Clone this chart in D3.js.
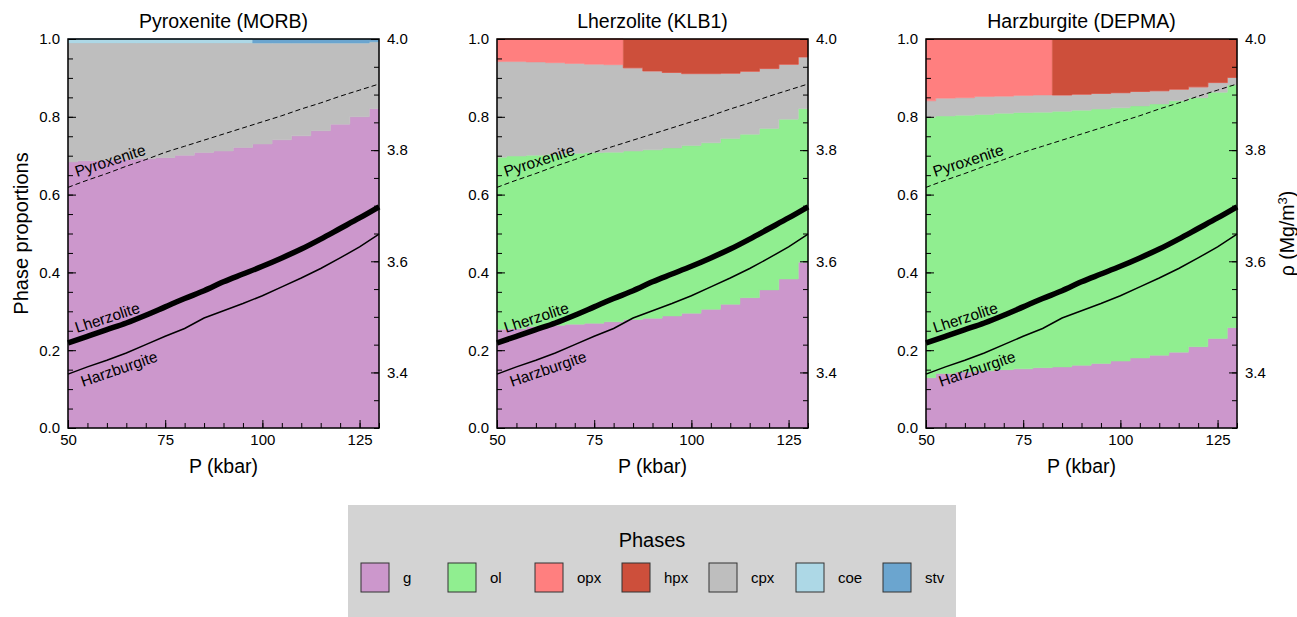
<!DOCTYPE html>
<html>
<head>
<meta charset="utf-8">
<script src="https://cdn.jsdelivr.net/npm/d3@7"></script>
<style>
  body { margin: 0; background: #fff; }
  svg text { font-family: "Liberation Sans", Arial, sans-serif; fill: #000; }
</style>
</head>
<body>
<svg width="1297" height="617"></svg>
<script>
/* pressure grid (kbar) shared by all three panels */
var pressure = [50, 55, 60, 65, 70, 75, 80, 85, 90, 95, 100, 105, 110, 115, 120, 125, 130];

/* phases, stacking order (bottom -> top) and legend order */
var stackOrder = ["g", "ol", "cpx", "opx", "hpx", "coe", "stv"];
var legendOrder = ["g", "ol", "opx", "hpx", "cpx", "coe", "stv"];
var phaseColors = {g: "#cc97cc", ol: "#90ee90", opx: "#ff7f7f", hpx: "#cd4f3b",
                   cpx: "#bebebe", coe: "#add8e6", stv: "#6ba5cf"};

/* Pyroxenite (MORB) phase proportions */
var morbG   = [0.684, 0.687, 0.688, 0.690, 0.692, 0.695, 0.701, 0.708, 0.712, 0.721, 0.730, 0.741, 0.751, 0.764, 0.781, 0.800, 0.821];
var morbCpx = [0.306, 0.303, 0.302, 0.300, 0.298, 0.295, 0.289, 0.282, 0.278, 0.269, 0.260, 0.249, 0.239, 0.226, 0.209, 0.190, 0.172];
var morbCoe = [0.010, 0.010, 0.010, 0.010, 0.010, 0.010, 0.010, 0.010, 0.010, 0.010, 0, 0, 0, 0, 0, 0, 0];
var morbStv = [0, 0, 0, 0, 0, 0, 0, 0, 0, 0, 0.010, 0.010, 0.010, 0.010, 0.010, 0.010, 0.007];

/* Lherzolite (KLB1) phase proportions */
var klbG   = [0.254, 0.255, 0.261, 0.264, 0.267, 0.269, 0.273, 0.279, 0.282, 0.288, 0.295, 0.305, 0.318, 0.335, 0.355, 0.383, 0.426];
var klbOl  = [0.442, 0.444, 0.440, 0.439, 0.439, 0.439, 0.436, 0.433, 0.433, 0.432, 0.431, 0.428, 0.426, 0.420, 0.415, 0.411, 0.395];
var klbCpx = [0.246, 0.243, 0.240, 0.236, 0.231, 0.227, 0.225, 0.214, 0.203, 0.194, 0.185, 0.178, 0.168, 0.162, 0.154, 0.141, 0.133];
var klbOpx = [0.058, 0.058, 0.059, 0.061, 0.063, 0.065, 0.066, 0, 0, 0, 0, 0, 0, 0, 0, 0, 0];
var klbHpx = [0, 0, 0, 0, 0, 0, 0, 0.074, 0.082, 0.086, 0.089, 0.089, 0.088, 0.083, 0.076, 0.065, 0.046];

/* Harzburgite (DEPMA) phase proportions */
var depG   = [0.129, 0.140, 0.144, 0.147, 0.150, 0.152, 0.155, 0.157, 0.161, 0.166, 0.172, 0.180, 0.187, 0.195, 0.209, 0.230, 0.258];
var depOl  = [0.670, 0.662, 0.660, 0.659, 0.659, 0.659, 0.657, 0.657, 0.656, 0.654, 0.651, 0.648, 0.646, 0.646, 0.640, 0.633, 0.624];
var depCpx = [0.042, 0.046, 0.045, 0.046, 0.044, 0.044, 0.044, 0.042, 0.041, 0.040, 0.039, 0.037, 0.034, 0.030, 0.028, 0.025, 0.019];
var depOpx = [0.159, 0.152, 0.151, 0.148, 0.147, 0.145, 0.144, 0, 0, 0, 0, 0, 0, 0, 0, 0, 0];
var depHpx = [0, 0, 0, 0, 0, 0, 0, 0.144, 0.142, 0.140, 0.138, 0.135, 0.133, 0.129, 0.123, 0.112, 0.099];

/* bulk densities (Mg/m3), drawn on every panel */
var rhoPyroxenite  = [3.733, 3.746, 3.758, 3.771, 3.783, 3.796, 3.807, 3.818, 3.829, 3.840, 3.851, 3.862, 3.874, 3.885, 3.897, 3.908, 3.919];
var rhoLherzolite  = [3.453, 3.465, 3.477, 3.489, 3.503, 3.518, 3.533, 3.547, 3.563, 3.577, 3.591, 3.606, 3.622, 3.640, 3.659, 3.678, 3.698];
var rhoHarzburgite = [3.397, 3.410, 3.422, 3.435, 3.450, 3.465, 3.479, 3.498, 3.511, 3.524, 3.538, 3.554, 3.570, 3.587, 3.606, 3.626, 3.649];

/* tick labels */
var xTicks = [50, 75, 100, 125];
var yTicks = [0, 0.2, 0.4, 0.6, 0.8, 1.0];
var rhoTicks = [3.4, 3.6, 3.8, 4.0];

var panels = [
  {title: "Pyroxenite (MORB)", phases: {g: morbG, cpx: morbCpx, coe: morbCoe, stv: morbStv}},
  {title: "Lherzolite (KLB1)", phases: {g: klbG, ol: klbOl, cpx: klbCpx, opx: klbOpx, hpx: klbHpx}},
  {title: "Harzburgite (DEPMA)", phases: {g: depG, ol: depOl, cpx: depCpx, opx: depOpx, hpx: depHpx}}
];

var svg = d3.select("svg");
var panelLeft = [68, 497, 926],
    pw = 311, plotTop = 39, ph = 389;

var x = d3.scaleLinear().domain([50, 130]).range([0, pw]),
    y = d3.scaleLinear().domain([0, 1]).range([ph, 0]),
    yRho = d3.scaleLinear().domain([3.3, 4.0]).range([ph, 0]);

var minorX = d3.range(50, 131, 5),
    minorY = d3.range(0, 1.0001, 0.05),
    minorRho = d3.range(3.3, 4.0001, 0.05);

panels.forEach(function(p, i) {
  var g = svg.append("g").attr("transform", "translate(" + panelLeft[i] + "," + plotTop + ")");

  /* build rows for the stack, phases missing in a panel are 0 */
  var rows = pressure.map(function(P, j) {
    var r = {P: P};
    stackOrder.forEach(function(k) { r[k] = p.phases[k] ? p.phases[k][j] : 0; });
    return r;
  });
  var series = d3.stack().keys(stackOrder)(rows);

  var area = d3.area()
      .curve(d3.curveStep)
      .x(function(d) { return x(d.data.P); })
      .y0(function(d) { return y(d[0]); })
      .y1(function(d) { return y(d[1]); });

  g.selectAll(".layer")
    .data(series.filter(function(s) { return p.phases[s.key]; }))
    .enter().append("path")
      .attr("class", "layer")
      .attr("fill", function(s) { return phaseColors[s.key]; })
      .attr("stroke", function(s) { return phaseColors[s.key]; })
      .attr("stroke-width", 0.5)
      .attr("d", area);

  /* density curves on the right-hand axis */
  var smooth = d3.line()
      .curve(d3.curveMonotoneX)
      .x(function(d, j) { return x(pressure[j]); })
      .y(function(d) { return yRho(d); });
  var straight = d3.line()
      .x(function(d, j) { return x(pressure[j]); })
      .y(function(d) { return yRho(d); });

  g.append("path").attr("d", smooth(rhoPyroxenite))
    .attr("fill", "none").attr("stroke", "#000").attr("stroke-width", 1).attr("stroke-dasharray", "5,3");
  g.append("path").attr("d", smooth(rhoLherzolite))
    .attr("fill", "none").attr("stroke", "#000").attr("stroke-width", 5.5);
  g.append("path").attr("d", straight(rhoHarzburgite))
    .attr("fill", "none").attr("stroke", "#000").attr("stroke-width", 1.5);

  var labels = [["Pyroxenite", 9, 138, -18], ["Lherzolite", 9, 294, -18], ["Harzburgite", 15, 348, -19]];
  g.selectAll(".rlab")
    .data(labels)
    .enter().append("text")
      .attr("class", "rlab")
      .attr("transform", function(d) { return "translate(" + d[1] + "," + d[2] + ") rotate(" + d[3] + ")"; })
      .style("font-size", "15.5px")
      .text(function(d) { return d[0]; });

  /* axes, ticks pointing inward */
  function clean(sel) { sel.select(".domain").remove(); sel.selectAll("line").attr("stroke", "#000"); sel.selectAll("text").style("font-size", "15px"); }

  g.append("g").call(d3.axisLeft(y).tickValues(minorY).tickSize(-5).tickFormat("")).call(clean);
  g.append("g").call(d3.axisLeft(y).tickValues(yTicks).tickSize(-8).tickPadding(8).tickFormat(d3.format(".1f"))).call(clean);

  g.append("g").attr("transform", "translate(" + pw + ",0)")
    .call(d3.axisRight(yRho).tickValues(minorRho).tickSize(-5).tickFormat("")).call(clean);
  g.append("g").attr("transform", "translate(" + pw + ",0)")
    .call(d3.axisRight(yRho).tickValues(rhoTicks).tickSize(-8).tickPadding(8).tickFormat(d3.format(".1f"))).call(clean);

  g.append("g").attr("transform", "translate(0," + ph + ")")
    .call(d3.axisBottom(x).tickValues(minorX).tickSize(-5).tickFormat("")).call(clean);
  g.append("g").attr("transform", "translate(0," + ph + ")")
    .call(d3.axisBottom(x).tickValues(xTicks).tickSize(-8).tickPadding(6)).call(clean);

  g.append("rect").attr("width", pw).attr("height", ph)
    .attr("fill", "none").attr("stroke", "#000").attr("stroke-width", 1.5);

  g.append("text").attr("x", pw / 2).attr("y", -11).attr("text-anchor", "middle")
    .style("font-size", "19.5px").text(p.title);
  g.append("text").attr("x", pw / 2).attr("y", ph + 45).attr("text-anchor", "middle")
    .style("font-size", "19.5px").text("P (kbar)");

  if (i === 0) {
    g.append("text").attr("transform", "translate(-40," + ph / 2 + ") rotate(-90)")
      .attr("text-anchor", "middle").style("font-size", "20px").text("Phase proportions");
  }
  if (i === 2) {
    var t = g.append("text").attr("transform", "translate(" + (pw + 57) + "," + ph / 2 + ") rotate(-90)")
      .attr("text-anchor", "middle").style("font-size", "19.5px");
    t.append("tspan").text("ρ (Mg/m");
    t.append("tspan").attr("dy", -7).style("font-size", "13px").text("3");
    t.append("tspan").attr("dy", 7).text(")");
  }
});

/* legend */
var legend = svg.append("g").attr("transform", "translate(348,505)");
legend.append("rect").attr("width", 608).attr("height", 112).attr("fill", "#d3d3d3");
legend.append("text").attr("x", 304).attr("y", 42).attr("text-anchor", "middle")
  .style("font-size", "20px").text("Phases");

var item = legend.selectAll(".item")
  .data(legendOrder)
  .enter().append("g")
    .attr("class", "item")
    .attr("transform", function(d, i) { return "translate(" + (13 + i * 87) + ",58)"; });
item.append("rect").attr("width", 28).attr("height", 29)
  .attr("fill", function(d) { return phaseColors[d]; })
  .attr("stroke", "#333").attr("stroke-width", 1);
item.append("text").attr("x", 42).attr("y", 20).style("font-size", "15px").text(function(d) { return d; });
</script>
</body>
</html>
